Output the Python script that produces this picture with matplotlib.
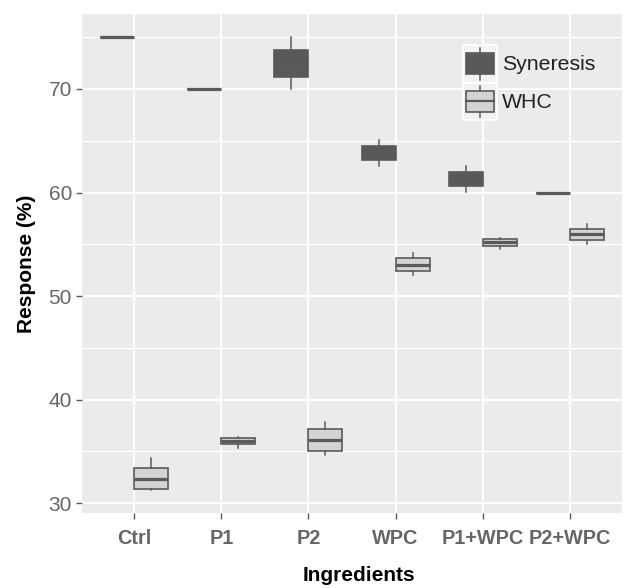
import matplotlib
matplotlib.use("Agg")
import matplotlib.pyplot as plt
from matplotlib.patches import Rectangle
from matplotlib.lines import Line2D
from matplotlib.legend_handler import HandlerBase
import numpy as np

plt.rcParams['font.family'] = ['Liberation Sans', 'DejaVu Sans']

categories = ["Ctrl", "P1", "P2", "WPC", "P1+WPC", "P2+WPC"]
series = ["Syneresis", "WHC"]

# Syneresis box statistics
syn_whislo = [75.0, 70.0, 70.0, 62.6, 60.05, 60.0]
syn_q1     = [75.0, 70.0, 71.2, 63.15, 60.6, 60.0]
syn_med    = [75.0, 70.0, 72.4, 63.7, 61.15, 60.0]
syn_q3     = [75.0, 70.0, 73.8, 64.45, 61.95, 60.0]
syn_whishi = [75.0, 70.0, 75.0, 65.1, 62.6, 60.0]

# WHC box statistics
whc_whislo = [31.25, 35.35, 34.7, 52.0, 54.55, 55.0]
whc_q1     = [31.38, 35.75, 35.0, 52.46, 54.8, 55.4]
whc_med    = [32.35, 36.05, 36.1, 53.04, 55.2, 55.97]
whc_q3     = [33.45, 36.3, 37.2, 53.66, 55.5, 56.46]
whc_whishi = [34.35, 36.4, 37.8, 54.2, 55.6, 57.0]

y_ticks = [30, 40, 50, 60, 70]

fill_colors = {"Syneresis": "#595959", "WHC": "#D3D3D3"}
edge_color = "#5A5A5A"

fig = plt.figure(figsize=(6.24, 5.88), dpi=100)
ax = fig.add_axes([82/624, 1 - 512.7/588, 540/624, 498.7/588])
ax.set_facecolor("#EBEBEB")
for s in ax.spines.values():
    s.set_visible(False)

x = np.arange(len(categories))
offset = 0.195
width = 0.39

def make_stats(lo, q1, med, q3, hi):
    return [dict(whislo=a, q1=b, med=c, q3=d, whishi=e, fliers=[])
            for a, b, c, d, e in zip(lo, q1, med, q3, hi)]

groups = [
    ("Syneresis", make_stats(syn_whislo, syn_q1, syn_med, syn_q3, syn_whishi), -offset),
    ("WHC", make_stats(whc_whislo, whc_q1, whc_med, whc_q3, whc_whishi), offset),
]

for name, stats, off in groups:
    ax.bxp(stats, positions=x + off, widths=width, showcaps=False,
           showfliers=False, patch_artist=True,
           boxprops=dict(facecolor=fill_colors[name], edgecolor=edge_color, linewidth=1.2),
           whiskerprops=dict(color=edge_color, linewidth=1.1),
           medianprops=dict(color=edge_color, linewidth=2.3),
           zorder=3)

ax.set_xlim(-0.6, 5.6)
ax.set_ylim(29.09, 77.24)
ax.set_xticks(x)
ax.set_xticklabels(categories)
ax.set_yticks(y_ticks)
ax.set_yticks([35, 45, 55, 65, 75], minor=True)

ax.grid(True, which='major', color='white', linewidth=1.3, zorder=0)
ax.grid(True, which='minor', axis='y', color='white', linewidth=0.9, zorder=0)
ax.set_axisbelow(True)

ax.tick_params(axis='both', which='major', length=4, width=1.0, color='#5A5A5A')
ax.tick_params(axis='y', which='minor', length=0)
ax.tick_params(axis='y', labelsize=15, labelcolor='#666666', pad=3.2)
ax.tick_params(axis='x', labelsize=14.3, labelcolor='#666666', pad=7.5)
for lbl in ax.get_xticklabels():
    lbl.set_fontweight('bold')

ax.set_ylabel("Response (%)", fontsize=15, fontweight='bold', color='black')
ax.yaxis.set_label_coords(-0.086, 0.5)
ax.set_xlabel("Ingredients", fontsize=15, fontweight='bold', color='black')
ax.xaxis.set_label_coords(0.513, -0.107)


class BoxHandler(HandlerBase):
    def __init__(self, fill, median):
        super().__init__()
        self.fill = fill
        self.median = median

    def create_artists(self, legend, orig_handle, xdescent, ydescent,
                       width, height, fontsize, trans):
        x0, y0 = -xdescent, -ydescent
        bg = Rectangle((x0, y0), width, height, facecolor='#F2F2F2',
                       edgecolor='white', linewidth=1.2, transform=trans)
        cx = x0 + width / 2
        wl = Line2D([cx, cx], [y0 + 0.08 * height, y0 + 0.92 * height],
                    color=edge_color, linewidth=1.1, transform=trans)
        box = Rectangle((x0 + 0.1 * width, y0 + 0.22 * height), 0.8 * width,
                        0.56 * height, facecolor=self.fill, edgecolor=edge_color,
                        linewidth=1.2, transform=trans)
        arts = [bg, wl, box]
        if self.median:
            ml = Line2D([x0 + 0.1 * width, x0 + 0.9 * width],
                        [y0 + 0.5 * height, y0 + 0.5 * height],
                        color=edge_color, linewidth=1.6, transform=trans)
            arts.append(ml)
        return arts

h1 = Rectangle((0, 0), 1, 1)
h2 = Rectangle((0, 0), 1, 1)
fs = 15.3
fs_px = fs * 100 / 72
key_h = 37.5
hh = (key_h / fs_px - 0.245) / 0.65
leg = ax.legend([h1, h2], series, loc='upper left',
                bbox_to_anchor=((463 - 82) / 540, (512.7 - 45) / 498.7),
                frameon=False, fontsize=fs, borderpad=0, borderaxespad=0,
                labelspacing=0, handlelength=34 / fs_px, handleheight=hh,
                handletextpad=5 / fs_px,
                handler_map={h1: BoxHandler(fill_colors["Syneresis"], False),
                             h2: BoxHandler(fill_colors["WHC"], True)})
for t in leg.get_texts():
    t.set_color('#222222')

fig.savefig("out.png", dpi=100)
